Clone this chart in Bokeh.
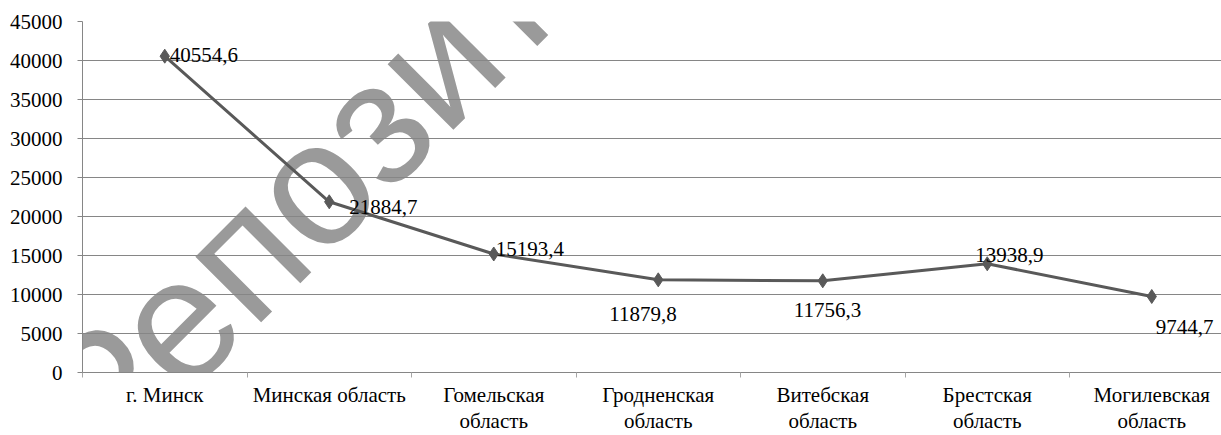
from bokeh.plotting import figure
from bokeh.models import Range1d, FixedTicker, Label, BasicTickFormatter
from bokeh.embed import file_html
from bokeh.resources import INLINE
from bokeh.core.properties import value

# ---------------- data ----------------
categories = ["г. Минск", "Минская область", "Гомельская\nобласть",
              "Гродненская\nобласть", "Витебская\nобласть",
              "Брестская\nобласть", "Могилевская\nобласть"]
values = [40554.6, 21884.7, 15193.4, 11879.8, 11756.3, 13938.9, 9744.7]
value_labels = ["40554,6", "21884,7", "15193,4", "11879,8",
                "11756,3", "13938,9", "9744,7"]
y_ticks = [0, 5000, 10000, 15000, 20000, 25000, 30000, 35000, 40000, 45000]

# data-label placement (screen px offsets from each point, +dy = down)
label_dx = [5, 20, 2, -49, -29, -12, 4]
label_dy = [-1, 5, -5, 34, 29, -9, 31]

# ---------------- layout ----------------
W, H = 1221, 435
BORDER_LEFT, BORDER_TOP = 82, 21
FRAME_BOTTOM = 372.0
SLOT = 164.5
x_end = -0.5 + (W - BORDER_LEFT) / SLOT

FONT = "Liberation Serif"
GRID = "#868686"
SERIES = "#595959"

xs = list(range(len(categories)))

p = figure(width=W, height=H, output_backend="svg", toolbar_location=None,
           x_range=Range1d(-0.5, x_end), y_range=Range1d(0, 45000),
           min_border_left=BORDER_LEFT, min_border_top=BORDER_TOP,
           min_border_right=0, min_border_bottom=0)
p.outline_line_color = None

# grid
p.xgrid.grid_line_color = None
p.ygrid.ticker = FixedTicker(ticks=y_ticks)
p.ygrid.grid_line_color = GRID

# y axis
p.yaxis.ticker = FixedTicker(ticks=y_ticks, minor_ticks=[])
p.yaxis.formatter = BasicTickFormatter(use_scientific=False)
p.yaxis.axis_line_color = GRID
p.yaxis.major_tick_line_color = GRID
p.yaxis.major_tick_out = 5
p.yaxis.major_tick_in = 0
p.yaxis.minor_tick_line_color = None
p.yaxis.major_label_standoff = 15
p.yaxis.major_label_text_font = FONT
p.yaxis.major_label_text_font_size = "21px"
p.yaxis.major_label_text_color = "black"

# x axis
p.xaxis.ticker = FixedTicker(ticks=xs, minor_ticks=[i - 0.5 for i in range(len(categories) + 1)])
p.xaxis.major_label_overrides = {i: c for i, c in zip(xs, categories)}
p.xaxis.axis_line_color = GRID
p.xaxis.major_tick_line_color = None
p.xaxis.major_tick_out = 0
p.xaxis.major_tick_in = 0
p.xaxis.minor_tick_line_color = "#a6a6a6"
p.xaxis.minor_tick_out = 5
p.xaxis.minor_tick_in = 0
p.xaxis.major_label_standoff = 5
p.xaxis.major_label_text_font = FONT
p.xaxis.major_label_text_font_size = "21px"
p.xaxis.major_label_text_line_height = 1.1
p.xaxis.major_label_text_color = "black"

# watermark (screen position converted to data units), drawn beneath the grid
frame_h = FRAME_BOTTOM - BORDER_TOP
def dx(sx):
    return (sx - BORDER_LEFT) / SLOT - 0.5
def dy(sy):
    return (FRAME_BOTTOM - sy) * 45000 / frame_h

wm = Label(x=dx(62), y=dy(434),
           text="Репозиторий", angle=45, angle_units="deg",
           text_font="Liberation Sans", text_font_style="normal",
           text_font_size="176px", text_color="#9a9a9a",
           text_baseline="alphabetic", text_align="left", level="image")
p.add_layout(wm)

# series
p.line(xs, values, line_color=SERIES, line_width=3)
p.scatter(xs, values, marker="diamond", size=14, color=SERIES)

# data labels
for i in range(len(values)):
    p.text(x=[xs[i]], y=[values[i]], text=[value_labels[i]],
           x_offset=label_dx[i], y_offset=label_dy[i],
           text_font=value(FONT), text_font_size="21px", text_color="black",
           text_align="left", text_baseline="alphabetic")

open("out.html", "w").write(file_html(p, INLINE))
